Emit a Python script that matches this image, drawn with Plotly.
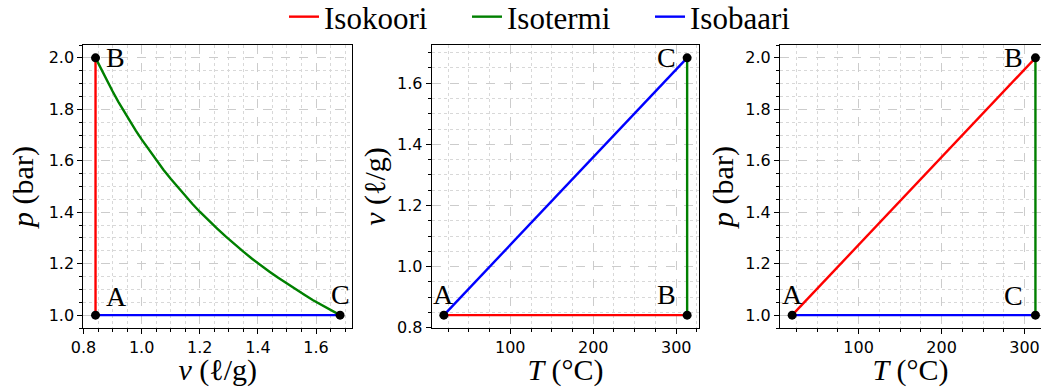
import plotly.graph_objects as go

# ---- data ----
state_names = ["A", "B", "C"]
p_state = [1.0, 2.0, 1.0]            # bar
v_state = [0.8414, 0.8414, 1.6828]   # l/g
T_state = [20.0, 313.15, 313.15]     # degC

# isotherm B -> C in the p-v panel
iso_v = [0.8414, 0.860, 0.880, 0.900, 0.920, 0.940, 0.960, 0.980, 1.000, 1.025,
         1.050, 1.075, 1.100, 1.125, 1.150, 1.175, 1.200, 1.230, 1.260, 1.290,
         1.320, 1.350, 1.380, 1.410, 1.440, 1.470, 1.500, 1.530, 1.560, 1.590,
         1.620, 1.650, 1.6828]
iso_p = [2.000, 1.957, 1.912, 1.870, 1.829, 1.790, 1.753, 1.717, 1.683, 1.642,
         1.603, 1.565, 1.530, 1.496, 1.463, 1.432, 1.402, 1.368, 1.336, 1.305,
         1.275, 1.247, 1.219, 1.193, 1.169, 1.145, 1.122, 1.100, 1.079, 1.058,
         1.039, 1.020, 1.000]

legend_names = ["Isokoori", "Isotermi", "Isobaari"]
colors = ["#ff0000", "#008000", "#0000ff"]

W, H = 1041, 387
SERIF = "Liberation Serif"
SANS = "DejaVu Sans"

fig = go.Figure()

def px(a, b, total):
    return [a / total, b / total]

doms_x = [px(83.3, 352.3, W), px(431.7, 699.3, W), [780 / W, 1.0]]
dom_y = [(H - 328) / H, (H - 45) / H]

LW = 2.4
A, B, C = 0, 1, 2

# ---------------- panel 1 : p-v ----------------
fig.add_trace(go.Scatter(x=[v_state[A], v_state[B]], y=[p_state[A], p_state[B]],
                         mode="lines", line=dict(color=colors[0], width=LW),
                         name=legend_names[0], legendgroup="k", showlegend=True,
                         xaxis="x", yaxis="y"))
fig.add_trace(go.Scatter(x=iso_v, y=iso_p, mode="lines",
                         line=dict(color=colors[1], width=LW),
                         name=legend_names[1], legendgroup="t", showlegend=True,
                         xaxis="x", yaxis="y"))
fig.add_trace(go.Scatter(x=[v_state[C], v_state[A]], y=[p_state[C], p_state[A]],
                         mode="lines", line=dict(color=colors[2], width=LW),
                         name=legend_names[2], legendgroup="b", showlegend=True,
                         xaxis="x", yaxis="y"))
fig.add_trace(go.Scatter(x=v_state, y=p_state, mode="markers",
                         marker=dict(color="black", size=9), showlegend=False,
                         xaxis="x", yaxis="y"))

# ---------------- panel 2 : v-T ----------------
fig.add_trace(go.Scatter(x=[T_state[A], T_state[B]], y=[v_state[A], v_state[B]],
                         mode="lines", line=dict(color=colors[0], width=LW),
                         legendgroup="k", showlegend=False, xaxis="x2", yaxis="y2"))
fig.add_trace(go.Scatter(x=[T_state[B], T_state[C]], y=[v_state[B], v_state[C]],
                         mode="lines", line=dict(color=colors[1], width=LW),
                         legendgroup="t", showlegend=False, xaxis="x2", yaxis="y2"))
fig.add_trace(go.Scatter(x=[T_state[C], T_state[A]], y=[v_state[C], v_state[A]],
                         mode="lines", line=dict(color=colors[2], width=LW),
                         legendgroup="b", showlegend=False, xaxis="x2", yaxis="y2"))
fig.add_trace(go.Scatter(x=T_state, y=v_state, mode="markers",
                         marker=dict(color="black", size=9), showlegend=False,
                         xaxis="x2", yaxis="y2"))

# ---------------- panel 3 : p-T ----------------
fig.add_trace(go.Scatter(x=[T_state[A], T_state[B]], y=[p_state[A], p_state[B]],
                         mode="lines", line=dict(color=colors[0], width=LW),
                         legendgroup="k", showlegend=False, xaxis="x3", yaxis="y3"))
fig.add_trace(go.Scatter(x=[T_state[B], T_state[C]], y=[p_state[B], p_state[C]],
                         mode="lines", line=dict(color=colors[1], width=LW),
                         legendgroup="t", showlegend=False, xaxis="x3", yaxis="y3"))
fig.add_trace(go.Scatter(x=[T_state[C], T_state[A]], y=[p_state[C], p_state[A]],
                         mode="lines", line=dict(color=colors[2], width=LW),
                         legendgroup="b", showlegend=False, xaxis="x3", yaxis="y3"))
fig.add_trace(go.Scatter(x=T_state, y=p_state, mode="markers",
                         marker=dict(color="black", size=9), showlegend=False,
                         xaxis="x3", yaxis="y3"))

# ---------------- axes ----------------
def margin_range(vals, frac=0.05):
    lo, hi = min(vals), max(vals)
    d = (hi - lo) * frac
    return [lo - d, hi + d]

v_rng = margin_range(v_state)
p_rng = margin_range(p_state)
T_rng = margin_range(T_state)
# third panel is cut at the right image edge
T_rng3 = [T_rng[0], T_rng[0] + (T_rng[1] - T_rng[0]) * (1041 - 780) / (699.3 - 431.7)]

tickfont = dict(family=SANS, size=16, color="black")
titlefont = dict(family=SERIF, size=30, color="black")

def axis(domain, rng, dtick, minor_dtick, fmt, title, anchor, mirror=True, tick0=0, standoff=4):
    return dict(
        domain=domain, range=rng, anchor=anchor, autorange=False,
        dtick=dtick, tick0=tick0, tickformat=fmt,
        ticks="outside", ticklen=5, tickwidth=1, tickcolor="black",
        showline=True, linecolor="black", linewidth=1, mirror=mirror,
        showgrid=True, gridcolor="#cccccc", gridwidth=1, griddash="dash",
        zeroline=False, tickfont=tickfont,
        title=dict(text=title, font=titlefont, standoff=standoff),
        automargin=False,
        minor=dict(dtick=minor_dtick, tick0=tick0, ticks="outside", ticklen=3,
                   tickcolor="black", showgrid=True, gridcolor="#d8d8d8",
                   griddash="dot", gridwidth=1),
    )

fig.update_layout(
    xaxis=axis(doms_x[0], v_rng, 0.2, 0.05, ".1f", "<i>v</i> (ℓ/g)", "y", standoff=3),
    yaxis=axis(dom_y, p_rng, 0.2, 0.05, ".1f", "<i>p</i> (bar)", "x", standoff=6),
    xaxis2=axis(doms_x[1], T_rng, 100, 25, "d", "<i>T</i> (°C)", "y2", standoff=3),
    yaxis2=axis(dom_y, v_rng, 0.2, 0.05, ".1f", "<i>v</i> (ℓ/g)", "x2", standoff=2),
    xaxis3=axis(doms_x[2], T_rng3, 100, 25, "d", "<i>T</i> (°C)", "y3", standoff=3),
    yaxis3=axis(dom_y, p_rng, 0.2, 0.05, ".1f", "<i>p</i> (bar)", "x3", mirror=False, standoff=2),
)

# ---------------- point labels ----------------
label_font = dict(family=SERIF, size=28, color="black")
offsets = {
    ("x", "y"):   {"A": (21, 19), "B": (20, 0), "C": (0, 21)},
    ("x2", "y2"): {"A": (0, 21), "B": (-21, 21), "C": (-21, 0)},
    ("x3", "y3"): {"A": (0, 21), "B": (-22, 0), "C": (-22, 20)},
}
panel_xy = {
    ("x", "y"): (v_state, p_state),
    ("x2", "y2"): (T_state, v_state),
    ("x3", "y3"): (T_state, p_state),
}
for (xa, ya), (xs, ys) in panel_xy.items():
    for i, nm in enumerate(state_names):
        dx, dy = offsets[(xa, ya)][nm]
        fig.add_annotation(x=xs[i], y=ys[i], xref=xa, yref=ya, text=nm,
                           showarrow=False, xanchor="center", yanchor="middle",
                           xshift=dx, yshift=dy, font=label_font)

fig.update_layout(
    width=W, height=H,
    margin=dict(l=0, r=0, t=0, b=0, autoexpand=False),
    paper_bgcolor="white", plot_bgcolor="white",
    showlegend=True,
    legend=dict(orientation="h", x=284 / W, xanchor="left",
                y=1 - 17 / H, yanchor="middle",
                font=dict(family=SERIF, size=31, color="black"),
                entrywidth=138, entrywidthmode="pixels",
                bgcolor="rgba(0,0,0,0)", itemwidth=30),
)

fig.write_html("out.html",
               config={"displayModeBar": False},
               post_script="document.body.style.margin='0px';"
                           "document.body.style.overflow='hidden';")
